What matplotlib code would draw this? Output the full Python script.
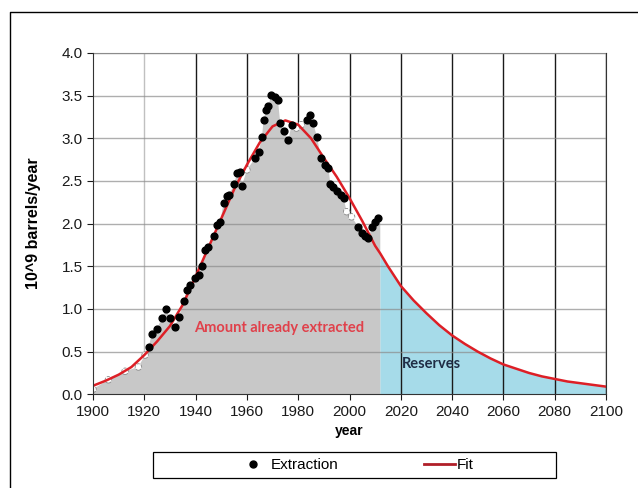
import matplotlib
matplotlib.use("Agg")
import numpy as np
import matplotlib.pyplot as plt
from matplotlib.lines import Line2D
from matplotlib.patches import Rectangle

plt.rcParams['font.family'] = ['Liberation Sans', 'DejaVu Sans']

# extraction points (10^9 barrels/year)
ext_years = [1921.7, 1923.0, 1925.0, 1926.9, 1928.6, 1929.9, 1931.8, 1933.6, 1935.3, 1936.6,
             1937.9, 1939.9, 1941.2, 1942.5, 1943.8, 1944.9, 1947.0, 1948.3, 1949.6, 1950.9,
             1952.2, 1953.0, 1955.1, 1956.1, 1957.4, 1958.0, 1963.3, 1964.6, 1965.9, 1966.5,
             1967.5, 1968.4, 1969.5, 1970.8, 1972.1, 1973.0, 1974.6, 1976.2, 1977.4, 1983.4,
             1984.7, 1985.8, 1987.3, 1988.9, 1990.5, 1991.8, 1992.5, 1993.5, 1995.1, 1996.6,
             1997.7, 2003.5, 2004.8, 2006.1, 2007.4, 2008.7, 2010.0, 2011.0]
ext_values = [0.56, 0.71, 0.77, 0.90, 1.00, 0.90, 0.79, 0.91, 1.09, 1.22,
              1.28, 1.36, 1.40, 1.50, 1.69, 1.73, 1.85, 1.98, 2.02, 2.24,
              2.32, 2.33, 2.47, 2.59, 2.61, 2.44, 2.77, 2.84, 3.02, 3.22,
              3.33, 3.38, 3.51, 3.49, 3.45, 3.18, 3.08, 2.98, 3.16, 3.22,
              3.27, 3.18, 3.02, 2.77, 2.69, 2.65, 2.47, 2.43, 2.38, 2.34,
              2.30, 1.96, 1.89, 1.85, 1.83, 1.96, 2.02, 2.07]

# points that were erased in the picture (white dashed blobs)
hidden_years = [1900.0, 1906.0, 1912.5, 1917.7, 1920.3, 1960.0, 1979.3, 1981.2, 1998.9, 2000.8]
hidden_values = [0.06, 0.17, 0.27, 0.32, 0.46, 2.63, 3.12, 3.16, 2.14, 2.08]

# fitted curve
fit_years = [1900, 1905, 1910, 1915, 1920, 1925, 1930, 1935, 1940, 1945, 1950, 1955,
             1960, 1965, 1970, 1975, 1980, 1985, 1990, 1995, 2000, 2005, 2010, 2012,
             2015, 2020, 2025, 2030, 2035, 2040, 2045, 2050, 2055, 2060, 2065, 2070,
             2075, 2080, 2085, 2090, 2095, 2100]
fit_values = [0.10, 0.16, 0.23, 0.32, 0.46, 0.62, 0.80, 1.05, 1.38, 1.72, 2.06, 2.40,
              2.69, 2.95, 3.14, 3.21, 3.16, 3.00, 2.77, 2.55, 2.30, 2.03, 1.74, 1.65,
              1.50, 1.27, 1.10, 0.95, 0.81, 0.69, 0.59, 0.50, 0.42, 0.35, 0.30, 0.25,
              0.21, 0.18, 0.15, 0.13, 0.11, 0.09]

end_year = 2012

fig = plt.figure(figsize=(6.38, 4.88), dpi=100)
ax = fig.add_axes([93 / 638, 1 - 394.3 / 488, (606 - 93) / 638, (394.3 - 53) / 488])

# grey area = already extracted (follows the data)
pts = sorted(zip(ext_years + hidden_years, ext_values + hidden_values))
gx = [p[0] for p in pts] + [end_year]
gy = [p[1] for p in pts] + [pts[-1][1]]
ax.fill_between(gx, 0, gy, facecolor='#c8c8c8', edgecolor='none', lw=0, zorder=3)

# blue area = reserves (under the fit)
bx = [x for x in fit_years if x >= end_year]
by = [v for x, v in zip(fit_years, fit_values) if x >= end_year]
ax.fill_between(bx, 0, by, facecolor='#a6dbe9', edgecolor='none', lw=0, zorder=0.5)

# vertical grid: stops on top of the grey area, runs through the blue one
for x in range(1920, 2101, 20):
    bottom = np.interp(x, gx, gy) if x < end_year else 0
    ax.vlines(x, bottom, 4.0, color='#c0c0c0' if x == 1920 else '#1a1a1a', lw=1.0, zorder=1)
for y in [0.5, 1.0, 1.5, 2.0, 2.5, 3.0, 3.5, 4.0]:
    ax.axhline(y, color='#8c8c8c', lw=1.0, alpha=0.7, zorder=3.5)

ax.plot(fit_years, fit_values, color='#dd1f26', lw=1.8, zorder=5, label='Fit')
ax.scatter(ext_years, ext_values, s=24, color='black', zorder=6, label='Extraction')
ax.scatter(hidden_years, hidden_values, s=22, facecolor='white', edgecolor='#888888',
           linewidth=0.6, linestyle='--', zorder=4)

ax.text(1972.5, 0.78, 'Amount already extracted', color='#e0414b', fontsize=10.5,
        fontweight='bold', family=['Lato', 'DejaVu Sans'], ha='center', va='center', zorder=7)
ax.text(2020.5, 0.36, 'Reserves', color='#1f2d45', fontsize=10.5,
        fontweight='bold', family=['Lato', 'DejaVu Sans'], ha='left', va='center', zorder=7)

ax.set_xlim(1900, 2100)
ax.set_ylim(0, 4.0)
ax.set_xticks(range(1900, 2101, 20))
ax.set_yticks([0.0, 0.5, 1.0, 1.5, 2.0, 2.5, 3.0, 3.5, 4.0])
ax.set_yticklabels(['%.1f' % v for v in ax.get_yticks()])
ax.tick_params(labelsize=11, colors='#1a1a1a', length=4, width=0.8)
ax.set_xlabel('year', fontsize=10, fontweight='bold', labelpad=4)
ax.set_ylabel('10^9 barrels/year', fontsize=11.5, fontweight='bold', labelpad=15)

for side in ['left', 'bottom', 'right']:
    ax.spines[side].set_color('#333333')
    ax.spines[side].set_zorder(8)
ax.spines['top'].set_color('#8c8c8c')

# legend box below the plot
fig.patches.append(Rectangle((153 / 638, 1 - 478 / 488), 403 / 638, 26 / 488,
                             transform=fig.transFigure, fill=False, edgecolor='black', lw=0.9))
handles = [Line2D([], [], ls='none', marker='o', ms=5, color='black'),
           Line2D([], [], color='#b01e28', lw=2)]
fig.legend(handles, ['Extraction', 'Fit'], loc='center', bbox_to_anchor=(356 / 638, 1 - 465 / 488),
           ncol=2, frameon=False, fontsize=11, handlelength=2.0, handletextpad=0.15,
           columnspacing=5.6)

# outer frame
fig.add_artist(Line2D([10 / 638, 10 / 638, 1], [0, 1 - 12 / 488, 1 - 12 / 488],
                      transform=fig.transFigure, color='black', lw=1.0))

fig.savefig('out.png', dpi=100)
